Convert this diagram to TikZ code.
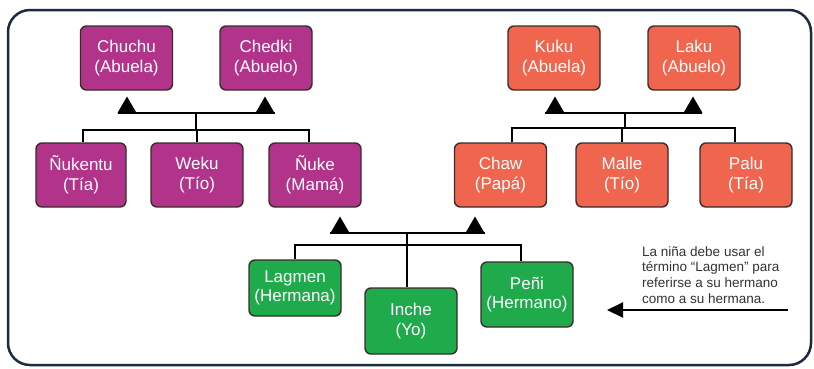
\documentclass[tikz,border=0pt]{standalone}
\usepackage{fontspec}
\setmainfont{Liberation Sans}
\usetikzlibrary{shapes.geometric,arrows.meta}
\definecolor{mag}{HTML}{B2338A}
\definecolor{org}{HTML}{EF654D}
\definecolor{grn}{HTML}{1FAA4B}
\definecolor{edgec}{HTML}{3A2C2C}
\definecolor{framec}{HTML}{1C2B3F}
\definecolor{txt}{HTML}{333333}
\begin{document}
\begin{tikzpicture}[x=1pt,y=-1pt,
  person/.style={draw=edgec, line width=1.4pt, rounded corners=6pt,
    minimum width=92pt, minimum height=64pt, inner sep=0pt, align=center,
    text=white, font=\fontsize{17}{19.5}\selectfont},
  tri/.style={regular polygon, regular polygon sides=3, fill=black,
    inner sep=0pt, outer sep=0pt, minimum size=22pt},
  bar/.style={draw=black, line width=2.2pt},
  link/.style={draw=black, line width=1.6pt},
  thinlink/.style={draw=black, line width=1.3pt},
  framebox/.style={draw=framec, line width=2.5pt, fill=white, rounded corners=22pt},
  notetext/.style={align=left, text=txt, font=\fontsize{13.5}{15.7}\selectfont, inner sep=0pt}
]
\useasboundingbox (0,0) rectangle (814,368);
\draw[framebox] (8,10) rectangle (811,365);

% paternal grandparents (left, magenta)
\node[person, fill=mag] (chuchu) at (126.5,58) {Chuchu\\(Abuela)};
\node[person, fill=mag] (chedki) at (266,58) {Chedki\\(Abuelo)};
\node[person, fill=mag, minimum width=90pt] (nukentu) at (81,175) {Ñukentu\\(Tía)};
\node[person, fill=mag] (weku) at (197,175) {Weku\\(Tío)};
\node[person, fill=mag] (nuke) at (315,175) {Ñuke\\(Mamá)};

% right, orange
\node[person, fill=org] (kuku) at (554,58) {Kuku\\(Abuela)};
\node[person, fill=org] (laku) at (694,58) {Laku\\(Abuelo)};
\node[person, fill=org] (chaw) at (500.5,175) {Chaw\\(Papá)};
\node[person, fill=org] (malle) at (622,175) {Malle\\(Tío)};
\node[person, fill=org] (palu) at (746,175) {Palu\\(Tía)};

% children, green
\node[person, fill=grn, minimum height=56pt] (lagmen) at (295,288) {Lagmen\\(Hermana)};
\node[person, fill=grn, minimum height=66pt] (inche) at (411,321) {Inche\\(Yo)};
\node[person, fill=grn, minimum height=65pt] (peni) at (527,294.5) {Peñi\\(Hermano)};

% triangles
\node[tri, anchor=side 2] (tcu) at (127,113) {};
\node[tri, anchor=side 2] (tch) at (265,113) {};
\node[tri, anchor=side 2] (tku) at (555,113) {};
\node[tri, anchor=side 2] (tla) at (693,113) {};
\node[tri, anchor=side 2] (tnu) at (340,233) {};
\node[tri, anchor=side 2] (tcw) at (475,233) {};

% left family lines
\coordinate (b1l) at (118,113);
\coordinate (b1r) at (275,113);
\coordinate (j1) at (196,113);
\coordinate (j1b) at (196,130);
\draw[bar] (b1l) -- (b1r);
\draw[link] (j1) -- (j1b);
\draw[link] ([xshift=2pt]nukentu.north) |- (j1b) -| ([xshift=-6pt]nuke.north);
\draw[link] (j1b -| weku.north) -- (weku.north);

% right family lines
\coordinate (b2l) at (545,113);
\coordinate (b2r) at (702,113);
\coordinate (j2) at (625,113);
\coordinate (j2b) at (625,128);
\draw[bar] (b2l) -- (b2r);
\draw[link] (j2) -- (j2b);
\draw[link] ([xshift=11.5pt]chaw.north) |- (j2b) -| ([xshift=-11pt]palu.north);
\draw[link] (j2b -| malle.north) -- (malle.north);

% children lines
\coordinate (b3l) at (330,233);
\coordinate (b3r) at (485,233);
\coordinate (j3) at (407,233);
\coordinate (j3b) at (407,245);
\draw[bar] (b3l) -- (b3r);
\draw[link] (j3) -- ([xshift=-4pt]inche.north);
\draw[thinlink] (lagmen.north) |- (j3b) -| ([xshift=-6pt]peni.north);

% note and arrow
\node[notetext, anchor=west] (note) at (642,275)
  {La niña debe usar el\\término “Lagmen” para\\referirse a su hermano\\como a su hermana.};
\coordinate (arrs) at (788,310);
\coordinate (arre) at (607,310);
\draw[line width=2pt, -{Triangle[length=16pt,width=15pt]}] (arrs) -- (arre);
\end{tikzpicture}
\end{document}
